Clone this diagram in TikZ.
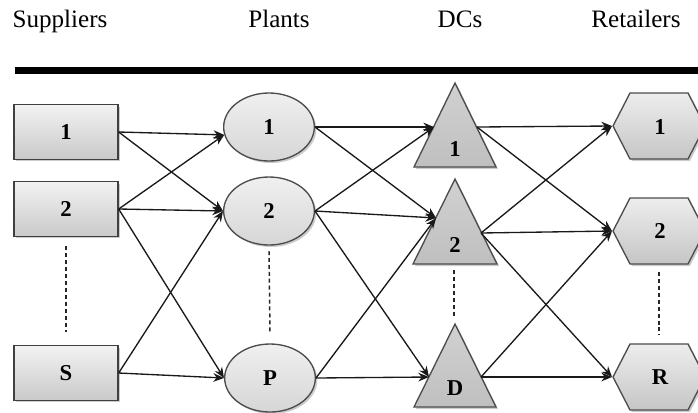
\documentclass[tikz,border=0pt]{standalone}
\usepackage{fontspec}
\setmainfont{Liberation Serif}
\usetikzlibrary{arrows.meta,shadows,shapes.geometric}

\begin{document}
\begin{tikzpicture}[x=0.75pt,y=-0.75pt,
  arr/.style={draw=black!90, line width=1pt, -{Stealth[length=8pt,width=6.5pt]}},
  dots/.style={draw=black!85, line width=1.1pt, dash pattern=on 3pt off 2.2pt},
  soft/.style={drop shadow={shadow xshift=1.5pt, shadow yshift=-1.5pt, fill=black!50, opacity=0.4}},
  head/.style={anchor=base, font=\fontsize{18.8}{20}\selectfont},
  lbl/.style={font=\bfseries\fontsize{17}{17}\selectfont, inner sep=0pt},
  supbox/.style={rectangle, draw=black!75, line width=1pt, minimum width=78pt, minimum height=41pt,
    top color=gray!10, bottom color=gray!42, soft, lbl},
  plant/.style={ellipse, draw=black!70, line width=1pt, minimum width=68pt, minimum height=51pt,
    inner sep=0pt, top color=gray!12, bottom color=gray!32, soft, lbl},
  dctri/.style={draw=black!70, line width=1pt, top color=gray!36, bottom color=gray!50, soft},
  retail/.style={draw=black!70, line width=1pt, top color=gray!14, bottom color=gray!45, soft}
]
\useasboundingbox (0,0) rectangle (698,412);
\clip (0,0) rectangle (698,412);

% column headings and rule
\node[head] (hs) at (60,27) {Suppliers};
\node[head] (hp) at (279,27) {Plants};
\node[head] (hd) at (460,27) {DCs};
\node[head] (hr) at (636,27) {Retailers};
\draw[line width=5.2pt] (15,70.5) -- (698,70.5);

% suppliers
\node[supbox] (s1) at (66,132) {1};
\node[supbox] (s2) at (66,209) {2};
\node[supbox] (ss) at (66,373) {S};

% plants
\node[plant] (p1) at (269,127) {1};
\node[plant] (p2) at (269,211) {2};
\node[plant] (pp) at (270,378) {P};

% distribution centres
\path[dctri] (455,83) -- (496,167) -- (414,167) -- cycle;
\path[dctri] (455,179) -- (497,264) -- (413,264) -- cycle;
\path[dctri] (455,324) -- (496,407) -- (414,407) -- cycle;
\node[lbl] (d1) at (455,149) {1};
\node[lbl] (d2) at (455,245) {2};
\node[lbl] (dd) at (455,388) {D};
\coordinate (d1in) at (434,127);  \coordinate (d1out) at (477,127);
\coordinate (d2in) at (436,218);  \coordinate (d2out) at (481,233);
\coordinate (ddin) at (429,377);  \coordinate (ddout) at (481,377);

% retailers
\path[retail] (613,126) -- (630,93) -- (688,93) -- (705,126) -- (688,159) -- (630,159) -- cycle;
\path[retail] (613,231) -- (630,198) -- (688,198) -- (705,231) -- (688,264) -- (630,264) -- cycle;
\path[retail] (613,377) -- (630,344) -- (688,344) -- (705,377) -- (688,410) -- (630,410) -- cycle;
\node[lbl] (r1) at (660,127) {1};
\node[lbl] (r2) at (660,231) {2};
\node[lbl] (rr) at (660,377) {R};
\coordinate (r1in) at (612,126);
\coordinate (r2in) at (612,231);
\coordinate (rrin) at (612,377);

% ellipsis marks between the first rows and the last one
\draw[dots] ([yshift=-7pt]s2.south) -- ([yshift=10pt]ss.north);
\draw[dots] ([yshift=-4pt]p2.south) -- ([yshift=7pt]pp.north);
\coordinate (dtop) at (454,270); \coordinate (dbot) at (454,317);
\draw[dots] (dtop) -- (dbot);
\coordinate (rtop) at (659,272); \coordinate (rbot) at (659,335);
\draw[dots] (rtop) -- (rbot);

% suppliers -> plants
\draw[arr] (s1.east) -- (p1.190);
\draw[arr] (s1.east) -- (p2.west);
\draw[arr] (s2.east) -- (p1.190);
\draw[arr] (s2.east) -- (p2.west);
\draw[arr] (s2.east) -- (pp.west);
\draw[arr] (ss.east) -- (p2.west);
\draw[arr] (ss.east) -- (pp.west);

% plants -> DCs
\draw[arr] (p1.east) -- (d1in);
\draw[arr] (p1.east) -- (d2in);
\draw[arr] (p2.east) -- (d1in);
\draw[arr] (p2.east) -- (d2in);
\draw[arr] (p2.east) -- (ddin);
\draw[arr] (pp.east) -- (d2in);
\draw[arr] (pp.east) -- (ddin);

% DCs -> retailers
\draw[arr] (d1out) -- (r1in);
\draw[arr] (d1out) -- (r2in);
\draw[arr] (d2out) -- (r1in);
\draw[arr] (d2out) -- (r2in);
\draw[arr] (d2out) -- (rrin);
\draw[arr] (ddout) -- (r2in);
\draw[arr] (ddout) -- (rrin);
\end{tikzpicture}
\end{document}
